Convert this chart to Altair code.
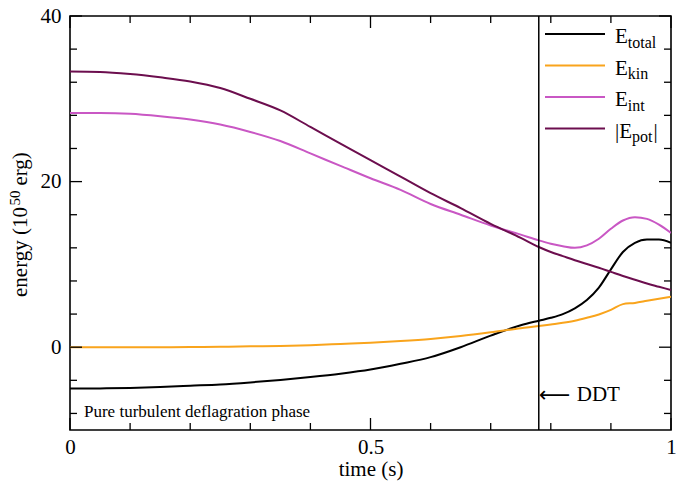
import altair as alt
import pandas as pd

# ---------------- data ----------------
time_s = [0, 0.05, 0.1, 0.15, 0.2, 0.25, 0.3, 0.35, 0.4, 0.45, 0.5, 0.55, 0.6, 0.65,
          0.7, 0.75, 0.78, 0.8, 0.82, 0.84, 0.86, 0.88, 0.9, 0.92, 0.94, 0.96, 0.98, 1.0]
e_total = [-5.0, -4.98, -4.92, -4.8, -4.65, -4.5, -4.25, -3.95, -3.6, -3.2, -2.7, -2.0, -1.2, 0.0,
           1.4, 2.65, 3.2, 3.55, 4.0, 4.7, 5.7, 7.2, 9.4, 11.5, 12.6, 13.0, 13.0, 12.6]
e_kin = [0.0, 0.0, 0.0, 0.0, 0.02, 0.05, 0.1, 0.15, 0.25, 0.4, 0.55, 0.75, 1.0, 1.35,
         1.8, 2.3, 2.55, 2.75, 2.95, 3.2, 3.55, 3.95, 4.5, 5.2, 5.35, 5.6, 5.85, 6.1]
e_int = [28.3, 28.3, 28.2, 27.9, 27.5, 26.9, 26.0, 24.9, 23.4, 21.9, 20.4, 19.0, 17.3, 16.0,
         14.7, 13.6, 12.9, 12.5, 12.2, 12.0, 12.3, 13.1, 14.3, 15.3, 15.7, 15.5, 14.8, 13.8]
e_pot = [33.3, 33.25, 33.0, 32.6, 32.1, 31.3, 30.0, 28.6, 26.6, 24.6, 22.6, 20.6, 18.6, 16.8,
         14.9, 13.2, 12.1, 11.5, 11.0, 10.5, 10.05, 9.6, 9.1, 8.6, 8.15, 7.7, 7.3, 6.9]

series_keys = ["total", "kin", "int", "pot"]
legend_main = ["E", "E", "E", "|E"]
legend_sub = ["total", "kin", "int", "pot"]
legend_tail = ["", "", "", "|"]
series_colors = ["#000000", "#f9a41c", "#c957c4", "#6c0e4e"]

x_major = [0, 0.5, 1]
x_minor = [0.1, 0.2, 0.3, 0.4, 0.6, 0.7, 0.8, 0.9]
y_major = [0, 20, 40]
y_minor = [-8, -4, 4, 8, 12, 16, 24, 28, 32, 36]

ddt_time = 0.78
ddt_label_y = -5.8
phase_text = "Pure turbulent deflagration phase"

# ---------------- build ----------------
W, H = 601, 414
FONT = "Liberation Serif"

rows = []
for key, vals in zip(series_keys, [e_total, e_kin, e_int, e_pot]):
    for t, v in zip(time_s, vals):
        rows.append({"series": key, "t": t, "v": v})
df = pd.DataFrame(rows)

xs = alt.Scale(domain=[0, 1], nice=False, zero=False)
ys = alt.Scale(domain=[-10, 40], nice=False, zero=False)

lines = alt.Chart(df).mark_line(strokeWidth=2, clip=True, interpolate="monotone").encode(
    x=alt.X("t:Q", scale=xs, title="time (s)",
            axis=alt.Axis(values=x_major, format="~g")),
    y=alt.Y("v:Q", scale=ys, title=None,
            axis=alt.Axis(values=y_major, format="~g")),
    color=alt.Color("series:N", scale=alt.Scale(domain=series_keys, range=series_colors),
                    legend=None),
)

def xticks(vals, length):
    d = pd.DataFrame({"t": vals})
    base = alt.Chart(d).mark_rule(color="black", strokeWidth=1.3)
    bottom = base.encode(x=alt.X("t:Q", scale=xs, title="time (s)"),
                         y=alt.value(H), y2=alt.value(H - length))
    top = base.encode(x=alt.X("t:Q", scale=xs, title="time (s)"),
                      y=alt.value(0), y2=alt.value(length))
    return [bottom, top]

def yticks(vals, length):
    d = pd.DataFrame({"v": vals})
    base = alt.Chart(d).mark_rule(color="black", strokeWidth=1.3)
    left = base.encode(y=alt.Y("v:Q", scale=ys, title=None),
                       x=alt.value(0), x2=alt.value(length))
    right = base.encode(y=alt.Y("v:Q", scale=ys, title=None),
                        x=alt.value(W), x2=alt.value(W - length))
    return [left, right]

tick_layers = xticks(x_major, 12) + xticks(x_minor, 7) + yticks(y_major, 12) + yticks(y_minor, 7)

anno = pd.DataFrame({"t": [ddt_time], "v": [ddt_label_y]})
ddt_rule = alt.Chart(anno).mark_rule(color="black", strokeWidth=1.5).encode(
    x=alt.X("t:Q", scale=xs, title="time (s)"), y=alt.value(0), y2=alt.value(H))
ddt_arrow = alt.Chart(anno).mark_text(align="left", baseline="middle", fontSize=22,
                                      font="DejaVu Sans", dx=0).encode(
    x=alt.X("t:Q", scale=xs, title="time (s)"), y=alt.Y("v:Q", scale=ys, title=None),
    text=alt.value("\u27f5"))
ddt_text = alt.Chart(anno).mark_text(align="left", baseline="middle", fontSize=21,
                                     font=FONT, dx=38).encode(
    x=alt.X("t:Q", scale=xs, title="time (s)"), y=alt.Y("v:Q", scale=ys, title=None),
    text=alt.value("DDT"))

phase = alt.Chart(anno).mark_text(align="left", baseline="alphabetic", fontSize=17,
                                  font=FONT).encode(
    x=alt.value(14), y=alt.value(401), text=alt.value(phase_text))

# legend (manual, for subscripts)
legend_layers = []
lx1, lx2, tx = W - 126, W - 66, W - 56
for i in range(4):
    ly = 18 + 31.5 * i
    col = series_colors[i]
    legend_layers.append(alt.Chart(anno).mark_rule(color=col, strokeWidth=2).encode(
        x=alt.value(lx1), x2=alt.value(lx2), y=alt.value(ly)))
    main = legend_main[i]
    main_w = 12.8 + (4.2 if main.startswith("|") else 0)
    legend_layers.append(alt.Chart(anno).mark_text(align="left", baseline="alphabetic",
                                                   fontSize=21, font=FONT).encode(
        x=alt.value(tx), y=alt.value(ly + 9), text=alt.value(main)))
    legend_layers.append(alt.Chart(anno).mark_text(align="left", baseline="alphabetic",
                                                   fontSize=16, font=FONT).encode(
        x=alt.value(tx + main_w), y=alt.value(ly + 13.5), text=alt.value(legend_sub[i])))
    if legend_tail[i]:
        sub_w = 16 * 1.278
        legend_layers.append(alt.Chart(anno).mark_text(align="left", baseline="alphabetic",
                                                       fontSize=21, font=FONT).encode(
            x=alt.value(tx + main_w + sub_w + 1), y=alt.value(ly + 9),
            text=alt.value(legend_tail[i])))

# y-axis title with superscript (rotated text pieces)
ytitle_x = -43
ytitle_start = 281
p1, p2, p3 = "energy (10", "50", "erg)"
w1 = 4.304 * 21
w2 = 1.0 * 15
gap = 5
ytitle = [
    alt.Chart(anno).mark_text(align="left", baseline="alphabetic", angle=270,
                              fontSize=21, font=FONT).encode(
        x=alt.value(ytitle_x), y=alt.value(ytitle_start), text=alt.value(p1)),
    alt.Chart(anno).mark_text(align="left", baseline="alphabetic", angle=270,
                              fontSize=15, font=FONT).encode(
        x=alt.value(ytitle_x - 7), y=alt.value(ytitle_start - w1 - 1), text=alt.value(p2)),
    alt.Chart(anno).mark_text(align="left", baseline="alphabetic", angle=270,
                              fontSize=21, font=FONT).encode(
        x=alt.value(ytitle_x), y=alt.value(ytitle_start - w1 - w2 - 1 - gap),
        text=alt.value(p3)),
]

chart = alt.layer(
    lines, *tick_layers, ddt_rule, ddt_arrow, ddt_text, phase, *legend_layers, *ytitle
).properties(
    width=W, height=H,
    autosize=alt.AutoSizeParams(type="none"),
    padding={"left": 62, "top": 8, "right": 6, "bottom": 52},
).configure_view(
    stroke="black", strokeWidth=1.6
).configure_axis(
    grid=False, ticks=False, domain=False,
    labelFont=FONT, labelFontSize=21, labelColor="black",
    titleFont=FONT, titleFontSize=21, titleColor="black", titleFontWeight="normal",
).configure_axisX(
    labelPadding=6, titlePadding=1, labelFlush=False,
).configure_axisY(
    labelPadding=9,
)

chart.save("out.html", embed_options={"renderer": "svg", "actions": False})
